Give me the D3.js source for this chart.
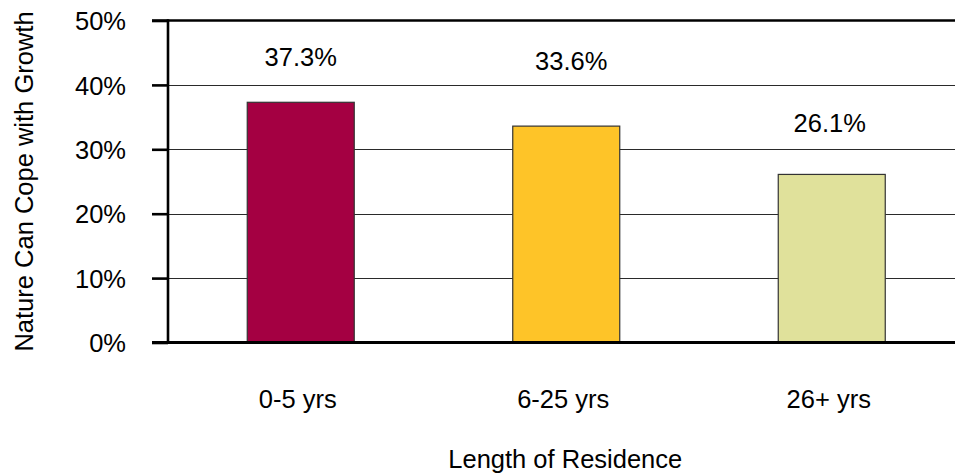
<!DOCTYPE html>
<html>
<head>
<meta charset="utf-8">
<script src="https://cdn.jsdelivr.net/npm/d3@7"></script>
<style>
  html, body { margin: 0; padding: 0; background: #fff; }
  svg { display: block; font-family: "Liberation Sans", Arial, sans-serif; }
</style>
</head>
<body>
<svg id="chart" width="955" height="476"></svg>
<script>
// ---- data ----
const categories = ["0-5 yrs", "6-25 yrs", "26+ yrs"];
const values = [37.3, 33.6, 26.1];
const valueLabels = ["37.3%", "33.6%", "26.1%"];
const yTicks = [0, 10, 20, 30, 40, 50];
const yTickLabels = ["0%", "10%", "20%", "30%", "40%", "50%"];
const barColors = ["#A40042", "#FEC428", "#E0E19B"];
const xTitle = "Length of Residence";
const yTitle = "Nature Can Cope with Growth";

// ---- layout (not data) ----
const plotLeft = 168, plotTop = 20.5, plotBottom = 342.5, step = 265.5;
const labelShift = [{dx: 0, dy: 36}, {dx: 5, dy: 56}, {dx: -2, dy: 42}];
const fontSize = 25.5;

const svg = d3.select("#chart");
const W = 955;

const x = d3.scaleBand()
  .domain(categories)
  .range([plotLeft, plotLeft + step * categories.length])
  .paddingInner(0.597)
  .paddingOuter(0.2985);

const y = d3.scaleLinear().domain([0, 50]).range([plotBottom, plotTop]);

// gridlines (inner)
svg.append("g")
  .selectAll("line")
  .data(yTicks.filter(t => t > 0 && t < 50))
  .join("line")
  .attr("x1", plotLeft).attr("x2", W)
  .attr("y1", d => Math.round(y(d)) + 0.5).attr("y2", d => Math.round(y(d)) + 0.5)
  .attr("stroke", "#2a2a2a").attr("stroke-width", 1.2);

// top border line
svg.append("line")
  .attr("x1", 152).attr("x2", W)
  .attr("y1", y(50)).attr("y2", y(50))
  .attr("stroke", "#000").attr("stroke-width", 2.6);

// bars
svg.append("g")
  .selectAll("rect")
  .data(values)
  .join("rect")
  .attr("x", (d, i) => x(categories[i]))
  .attr("width", x.bandwidth())
  .attr("y", d => y(d))
  .attr("height", d => y(0) - y(d))
  .attr("fill", (d, i) => barColors[i])
  .attr("stroke", "#333")
  .attr("stroke-width", 1.2);

// y axis
const yAxis = d3.axisLeft(y)
  .tickValues(yTicks)
  .tickFormat((d, i) => yTickLabels[i])
  .tickSize(16)
  .tickPadding(26);
const gy = svg.append("g").attr("transform", `translate(${plotLeft},0)`).call(yAxis);
gy.select(".domain").remove();
gy.selectAll(".tick line").attr("stroke", "#000").attr("stroke-width", 2.6);
gy.selectAll(".tick text")
  .attr("font-size", fontSize)
  .attr("font-family", "Liberation Sans, Arial, sans-serif")
  .attr("fill", "#000")
  .attr("dy", "0.36em");

// left axis line
svg.append("line")
  .attr("x1", plotLeft).attr("x2", plotLeft)
  .attr("y1", plotTop - 1.3).attr("y2", plotBottom)
  .attr("stroke", "#000").attr("stroke-width", 2.6);

// bottom axis line
svg.append("line")
  .attr("x1", 152).attr("x2", W)
  .attr("y1", y(0)).attr("y2", y(0))
  .attr("stroke", "#000").attr("stroke-width", 3.2);

// x axis labels
const xAxis = d3.axisBottom(x).tickSize(0).tickPadding(0);
const gx = svg.append("g").attr("transform", `translate(0,${y(0)})`).call(xAxis);
gx.select(".domain").remove();
gx.selectAll(".tick text")
  .attr("font-size", fontSize)
  .attr("font-family", "Liberation Sans, Arial, sans-serif")
  .attr("fill", "#000")
  .attr("dx", -3)
  .attr("y", 65)
  .attr("dy", 0);

// value labels
svg.append("g")
  .selectAll("text")
  .data(values)
  .join("text")
  .attr("x", (d, i) => x(categories[i]) + x.bandwidth() / 2 + labelShift[i].dx)
  .attr("y", (d, i) => y(d) - labelShift[i].dy)
  .attr("text-anchor", "middle")
  .attr("font-size", fontSize)
  .attr("fill", "#000")
  .text((d, i) => valueLabels[i]);

// axis titles
svg.append("text")
  .attr("x", plotLeft + (step * categories.length) / 2 - 1)
  .attr("y", 468)
  .attr("text-anchor", "middle")
  .attr("font-size", fontSize)
  .attr("fill", "#000")
  .text(xTitle);

svg.append("text")
  .attr("transform", `translate(33,${(plotTop + plotBottom) / 2}) rotate(-90)`)
  .attr("text-anchor", "middle")
  .attr("font-size", fontSize)
  .attr("fill", "#000")
  .text(yTitle);
</script>
</body>
</html>
